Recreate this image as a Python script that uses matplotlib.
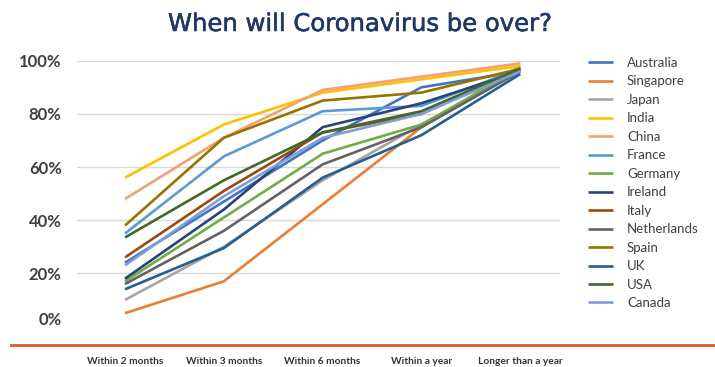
import matplotlib
matplotlib.use("Agg")
import matplotlib.pyplot as plt
import matplotlib.transforms as mtransforms
import matplotlib.patheffects as pe
from matplotlib.lines import Line2D

categories = ["Within 2 months", "Within 3 months", "Within 6 months",
              "Within a year", "Longer than a year"]
countries = ["Australia", "Singapore", "Japan", "India", "China", "France",
             "Germany", "Ireland", "Italy", "Netherlands", "Spain", "UK",
             "USA", "Canada"]

australia = [24, 47, 70, 90, 96]
singapore = [5, 17, 46, 75, 98]
japan = [10, 30, 55, 76, 96]
india = [56, 76, 88, 93, 98]
china = [48, 71, 89, 94, 99]
france = [35, 64, 81, 83, 97]
germany = [17, 41, 65, 76, 97]
ireland = [18, 44, 75, 84, 96]
italy = [26, 51, 73, 80, 97]
netherlands = [16, 36, 61, 75, 96]
spain = [38, 71, 85, 88, 97]
uk = [14, 29.5, 56, 72, 95]
usa = [33.5, 55, 73, 81, 97]
canada = [23, 49, 71, 80, 96]

series = [australia, singapore, japan, india, china, france, germany,
          ireland, italy, netherlands, spain, uk, usa, canada]
colors = ["#4472C4", "#ED7D31", "#A5A5A5", "#FFC000", "#F4A070", "#5B9BD5",
          "#70AD47", "#264478", "#9E480E", "#636363", "#997300", "#255E91",
          "#43682B", "#7D9FD8"]

yticks = [0, 20, 40, 60, 80, 100]
ytick_labels = ["0%", "20%", "40%", "60%", "80%", "100%"]

fig = plt.figure(figsize=(7.15, 3.67), dpi=100)
ax = fig.add_axes([0.1077, 0.1104, 0.676, 0.7242])

x = list(range(len(categories)))
handles = []
for name, vals, c in zip(countries, series, colors):
    ln, = ax.plot(x, vals, color=c, lw=1.9, solid_capstyle="butt",
                  clip_on=False, label=name)
    handles.append(ln)

ax.set_xlim(-0.486, 4.405)
ax.set_ylim(0, 100)
ax.set_yticks(yticks)
ax.set_yticklabels(ytick_labels, fontsize=12, fontweight="bold",
                   color="#404040", family="Lato")
ax.tick_params(axis="y", length=0, pad=11)
ax.set_xticks(x)
ax.set_xticklabels(categories, fontsize=7.3, fontweight="bold",
                   color="#333333", family="Lato")
ax.tick_params(axis="x", length=0, pad=22)

ax.grid(axis="y", color="#D9D9D9", lw=1)
ax.set_axisbelow(True)
for s in ax.spines.values():
    s.set_visible(False)

# hide 0 gridline, shift 0% label upward as in reference
gl = ax.get_ygridlines()
gl[0].set_visible(False)
lab0 = ax.get_yticklabels()[0]
lab0.set_transform(lab0.get_transform() +
                   mtransforms.ScaledTranslation(0, 8 / 100, fig.dpi_scale_trans))

# orange separator line
fig.add_artist(Line2D([11 / 715, 1.0], [1 - 345 / 367, 1 - 345 / 367],
                      color="#E0572A", lw=2, transform=fig.transFigure))

fig.text(360 / 715, 1 - 24 / 367, "When will Coronavirus be over?",
         ha="center", va="center", fontsize=17.5, color="#1F3864",
         family="DejaVu Sans",
         path_effects=[pe.withStroke(linewidth=0.4, foreground="#1F3864")])

fig.legend(handles=handles, labels=countries, loc="upper left",
           bbox_to_anchor=(588 / 715, 1 - 57 / 367), frameon=False,
           handlelength=1.9, handletextpad=1.05,
           labelspacing=0.49, borderpad=0, borderaxespad=0,
           labelcolor="#404040", prop={"family": "Lato", "size": 9.5})

fig.savefig("out.png", dpi=100)
